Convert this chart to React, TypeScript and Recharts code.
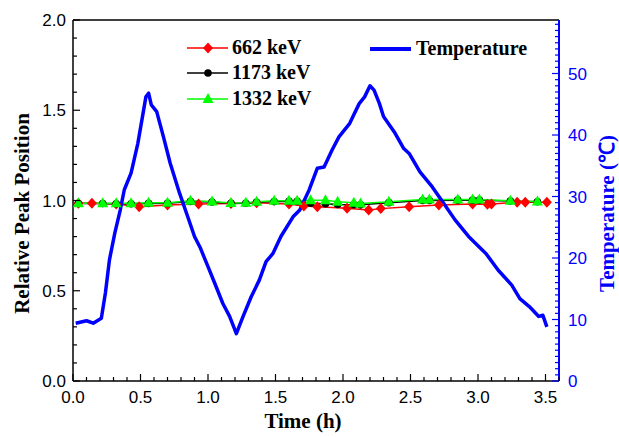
import {
  ComposedChart,
  Line,
  XAxis,
  YAxis,
  ReferenceLine,
  Legend,
  Label,
} from 'recharts';

// peak position data (relative)
const time662 = [0.04, 0.14, 0.32, 0.49, 0.7, 0.93, 1.17, 1.36, 1.6, 1.71, 1.81, 2.03, 2.19, 2.28, 2.49, 2.71, 2.96, 3.07, 3.1, 3.29, 3.35, 3.51];
const peak662 = [0.985, 0.985, 0.98, 0.965, 0.975, 0.98, 0.983, 0.987, 0.98, 0.97, 0.966, 0.957, 0.947, 0.955, 0.965, 0.975, 0.98, 0.979, 0.981, 0.99, 0.99, 0.99];

const time1173 = [0.04, 0.22, 0.32, 0.43, 0.56, 0.7, 0.87, 1.03, 1.17, 1.28, 1.36, 1.49, 1.6, 1.66, 1.76, 1.87, 1.96, 2.08, 2.13, 2.34, 2.59, 2.64, 2.85, 2.96, 3.01, 3.24, 3.44];
const peak1173 = [0.983, 0.983, 0.982, 0.982, 0.984, 0.985, 0.995, 0.992, 0.984, 0.985, 0.99, 0.994, 0.995, 0.995, 0.985, 0.982, 0.978, 0.977, 0.976, 0.988, 1.0, 1.0, 1.002, 1.002, 1.002, 0.997, 0.993];

const time1332 = [0.04, 0.22, 0.32, 0.43, 0.56, 0.7, 0.87, 1.03, 1.17, 1.28, 1.36, 1.49, 1.6, 1.66, 1.76, 1.87, 1.96, 2.08, 2.13, 2.34, 2.59, 2.64, 2.85, 2.96, 3.01, 3.24, 3.44];
const peak1332 = [0.985, 0.985, 0.985, 0.985, 0.987, 0.987, 0.999, 0.995, 0.986, 0.988, 0.993, 0.998, 0.999, 0.999, 1.002, 1.002, 0.993, 0.988, 0.984, 0.993, 1.005, 1.005, 1.006, 1.006, 1.006, 0.999, 0.994];

// temperature (°C)
const tempTime = [0.02, 0.1, 0.15, 0.21, 0.24, 0.27, 0.31, 0.35, 0.38, 0.43, 0.48, 0.54, 0.56, 0.58, 0.62, 0.67, 0.72, 0.79, 0.85, 0.9, 0.94, 1.0, 1.05, 1.07, 1.11, 1.16, 1.21, 1.26, 1.32, 1.38, 1.43, 1.48, 1.54, 1.63, 1.68, 1.75, 1.81, 1.86, 1.92, 1.97, 2.05, 2.08, 2.12, 2.16, 2.2, 2.23, 2.27, 2.3, 2.38, 2.45, 2.49, 2.57, 2.66, 2.73, 2.83, 2.93, 3.06, 3.15, 3.25, 3.31, 3.38, 3.45, 3.48, 3.51];
const tempValues = [9.4, 9.8, 9.4, 10.2, 14.3, 19.7, 24.1, 27.8, 31.1, 33.8, 38.6, 46.2, 46.8, 44.9, 43.8, 39.7, 35.4, 30.5, 26.7, 23.5, 21.8, 18.6, 15.9, 14.8, 12.6, 10.5, 7.7, 10.5, 13.7, 16.4, 19.4, 20.7, 23.5, 26.7, 27.8, 31.1, 34.6, 34.8, 37.6, 39.7, 41.9, 43.3, 45.1, 46.2, 48.0, 47.3, 45.1, 43.0, 40.5, 37.8, 37.0, 34.0, 31.6, 29.4, 26.2, 23.5, 20.7, 18.0, 15.6, 13.4, 12.1, 10.5, 10.7, 8.8];

const xLabels = ['0.0', '0.5', '1.0', '1.5', '2.0', '2.5', '3.0', '3.5'];
const leftLabels = ['0.0', '0.5', '1.0', '1.5', '2.0'];
const rightLabels = ['0', '10', '20', '30', '40', '50'];

const seriesNames = ['662 keV', '1173 keV', '1332 keV'];
const tempName = 'Temperature';

const zip = (xs: number[], ys: number[], key: string) => xs.map((t, i) => ({ t, [key]: ys[i] }));
const data662 = zip(time662, peak662, 'v');
const data1173 = zip(time1173, peak1173, 'v');
const data1332 = zip(time1332, peak1332, 'v');
const tempData = zip(tempTime, tempValues, 'temp');

const steps = (max: number, step: number) => {
  const out: number[] = [];
  for (let k = 0; k * step <= max + 1e-9; k++) out.push(Math.round(k * step * 100) / 100);
  return out;
};
const xTicks = steps(3.6, 0.1);
const leftTicks = steps(2, 0.1);
const rightTicks = steps(58, 1);

const BLUE = '#0000ff';
const RED = '#ff0000';
const GREEN = '#00ff00';
const SANS = '"Liberation Sans", Arial, sans-serif';
const SERIF = '"Liberation Serif", "Times New Roman", serif';

const labelFor = (v: number, labels: string[]) =>
  labels.find((l) => Math.abs(parseFloat(l) - v) < 1e-6);

const XTick = (props: any) => {
  const { x, y, payload } = props;
  const lab = labelFor(payload.value, xLabels);
  return (
    <g>
      <line x1={x} y1={y} x2={x} y2={y - (lab ? 7 : 4)} stroke="#000" strokeWidth={1.2} />
      {lab && (
        <text x={x} y={y + 22} textAnchor="middle" fontFamily={SANS} fontSize={17} fill="#000">
          {lab}
        </text>
      )}
    </g>
  );
};

const LeftTick = (props: any) => {
  const { x, y, payload } = props;
  const lab = labelFor(payload.value, leftLabels);
  return (
    <g>
      <line x1={x} y1={y} x2={x + (lab ? 7 : 4)} y2={y} stroke="#000" strokeWidth={1.2} />
      {lab && (
        <text x={x - 7} y={y + 6} textAnchor="end" fontFamily={SANS} fontSize={17} fill="#000">
          {lab}
        </text>
      )}
    </g>
  );
};

const RightTick = (props: any) => {
  const { x, y, payload } = props;
  const lab = labelFor(payload.value, rightLabels);
  return (
    <g>
      <line x1={x} y1={y} x2={x - (lab ? 7 : 4)} y2={y} stroke={BLUE} strokeWidth={1.2} />
      {lab && (
        <text x={x + 9} y={y + 6} textAnchor="start" fontFamily={SANS} fontSize={17} fill={BLUE}>
          {lab}
        </text>
      )}
    </g>
  );
};

const Diamond = (props: any) => {
  const { cx, cy } = props;
  if (cx == null || cy == null) return null;
  return <path d={`M${cx},${cy - 5.5}L${cx + 5},${cy}L${cx},${cy + 5.5}L${cx - 5},${cy}Z`} fill={RED} />;
};
const Circle = (props: any) => {
  const { cx, cy } = props;
  if (cx == null || cy == null) return null;
  return <circle cx={cx} cy={cy} r={3.8} fill="#000" />;
};
const Triangle = (props: any) => {
  const { cx, cy } = props;
  if (cx == null || cy == null) return null;
  return <path d={`M${cx},${cy - 6}L${cx + 5.5},${cy + 4}L${cx - 5.5},${cy + 4}Z`} fill={GREEN} />;
};

const LegendBox = () => {
  const rows = [
    { name: seriesNames[0], color: RED, mark: <Diamond cx={208} cy={48} /> },
    { name: seriesNames[1], color: '#000', mark: <Circle cx={208} cy={73} /> },
    { name: seriesNames[2], color: GREEN, mark: <Triangle cx={208} cy={99} /> },
  ];
  const ys = [48, 73, 99];
  return (
    <svg width={619} height={437} style={{ position: 'absolute', left: 0, top: 0 }}>
      {rows.map((r, i) => (
        <g key={r.name}>
          <line x1={187} y1={ys[i]} x2={228} y2={ys[i]} stroke={r.color} strokeWidth={1.5} />
          {r.mark}
          <text x={232} y={ys[i] + 6} fontFamily={SERIF} fontWeight="bold" fontSize={20} fill="#000">
            {r.name}
          </text>
        </g>
      ))}
      <line x1={370} y1={49} x2={411} y2={49} stroke={BLUE} strokeWidth={4} />
      <text x={416} y={55} fontFamily={SERIF} fontWeight="bold" fontSize={20} fill="#000">
        {tempName}
      </text>
    </svg>
  );
};

export default function App() {
  return (
    <div style={{ position: 'absolute', left: 0, top: 0, width: 619, height: 437, background: '#fff' }}>
      <ComposedChart width={619} height={437} margin={{ top: 20, right: 0, bottom: 0, left: 0 }}>
        <XAxis
          type="number"
          dataKey="t"
          domain={[0, 3.6]}
          ticks={xTicks}
          interval={0}
          height={56}
          allowDataOverflow
          axisLine={{ stroke: '#000', strokeWidth: 1.5 }}
          tickLine={false}
          tickSize={0}
          tickMargin={0}
          tick={<XTick />}
        >
          <Label
            content={(p: any) => {
              const vb = p.viewBox;
              return (
                <text x={vb.x + 230} y={vb.y + 47} textAnchor="middle" fontFamily={SERIF} fontWeight="bold" fontSize={21} fill="#000">
                  Time (h)
                </text>
              );
            }}
          />
        </XAxis>
        <YAxis
          yAxisId="left"
          domain={[0, 2]}
          ticks={leftTicks}
          interval={0}
          width={73}
          allowDataOverflow
          axisLine={{ stroke: '#000', strokeWidth: 1.5 }}
          tickLine={false}
          tickSize={0}
          tickMargin={0}
          tick={<LeftTick />}
        >
          <Label
            content={(p: any) => {
              const vb = p.viewBox;
              const cx = vb.x + 22;
              const cy = vb.y + vb.height / 2 + 13;
              return (
                <text x={cx} y={cy} transform={`rotate(-90 ${cx} ${cy})`} dy={7} textAnchor="middle" fontFamily={SERIF} fontWeight="bold" fontSize={21} fill="#000">
                  Relative Peak Position
                </text>
              );
            }}
          />
        </YAxis>
        <YAxis
          yAxisId="right"
          orientation="right"
          domain={[0, 58.7]}
          ticks={rightTicks}
          interval={0}
          width={60}
          allowDataOverflow
          axisLine={{ stroke: BLUE, strokeWidth: 2 }}
          tickLine={false}
          tickSize={0}
          tickMargin={0}
          tick={<RightTick />}
        >
          <Label
            content={(p: any) => {
              const vb = p.viewBox;
              const cx = vb.x + 48;
              const cy = vb.y + vb.height / 2 + 13;
              return (
                <text x={cx} y={cy} transform={`rotate(-90 ${cx} ${cy})`} dy={7} textAnchor="middle" fontFamily={SERIF} fontWeight="bold" fontSize={21} fill={BLUE}>
                  Temperature (℃)
                </text>
              );
            }}
          />
        </YAxis>
        <ReferenceLine yAxisId="left" y={2} stroke="#000" strokeWidth={1.5} />
        <Line
          yAxisId="left"
          data={data662}
          dataKey="v"
          name={seriesNames[0]}
          stroke={RED}
          strokeWidth={1.5}
          dot={<Diamond />}
          isAnimationActive={false}
        />
        <Line
          yAxisId="left"
          data={data1173}
          dataKey="v"
          name={seriesNames[1]}
          stroke="#000"
          strokeWidth={1.5}
          dot={<Circle />}
          isAnimationActive={false}
        />
        <Line
          yAxisId="left"
          data={data1332}
          dataKey="v"
          name={seriesNames[2]}
          stroke={GREEN}
          strokeWidth={1.5}
          dot={<Triangle />}
          isAnimationActive={false}
        />
        <Line
          yAxisId="right"
          data={tempData}
          dataKey="temp"
          name={tempName}
          stroke={BLUE}
          strokeWidth={3.5}
          strokeLinejoin="round"
          dot={false}
          isAnimationActive={false}
        />
        <Legend
          layout="horizontal"
          verticalAlign="middle"
          align="center"
          wrapperStyle={{ position: 'absolute', left: 0, top: 0, width: 619, height: 437, pointerEvents: 'none' }}
          content={() => <LegendBox />}
        />
      </ComposedChart>
    </div>
  );
}
